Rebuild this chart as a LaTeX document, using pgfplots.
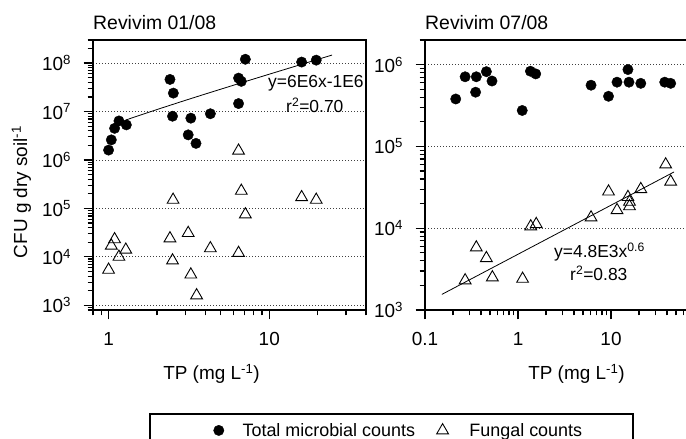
\documentclass[border=0pt]{standalone}
\usepackage{fontspec}
\setmainfont{Liberation Sans}
\usepackage{pgfplots}
\pgfplotsset{compat=1.18}

\begin{document}
\begin{tikzpicture}[x=1bp,y=1bp]
% ---- Revivim 01/08
\begin{axis}[scale only axis, xmode=log, ymode=log,
  at={(93bp,129bp)}, anchor=south west, width=273bp, height=270bp,
  axis line style={line width=1.8bp},
  tick align=outside, xtick pos=bottom, ytick pos=left,
  major tick length=9.5bp, minor tick length=5.5bp,
  tick style={black, line width=1.2bp},
  ymajorgrids,
  major grid style={black!75, line width=0.9bp, dash pattern=on 0.9bp off 2.1bp},
  tick label style={font=\fontsize{19}{22}\selectfont},
  yticklabel style={xshift=-9bp}, xticklabel style={yshift=-9bp},
  xmin=0.8, xmax=40, ymin=800, ymax=3e8,
  xtick={1,10}, xticklabels={1,10},
  minor xtick={0.8,0.9,2,3,4,5,6,7,8,9,20,30,40},
  ytick={1e3,1e4,1e5,1e6,1e7,1e8},
  yticklabels={10\textsuperscript{3},10\textsuperscript{4},10\textsuperscript{5},10\textsuperscript{6},10\textsuperscript{7},10\textsuperscript{8}},
  minor ytick={800,900,2e3,3e3,4e3,5e3,6e3,7e3,8e3,9e3,2e4,3e4,4e4,5e4,6e4,7e4,8e4,9e4,
    2e5,3e5,4e5,5e5,6e5,7e5,8e5,9e5,2e6,3e6,4e6,5e6,6e6,7e6,8e6,9e6,
    2e7,3e7,4e7,5e7,6e7,7e7,8e7,9e7,2e8,3e8},
  legend columns=2, legend cell align=left,
  legend style={draw=none, fill=none, at={(0.441,-0.446)}, anchor=west,
    inner xsep=0bp, inner ysep=0bp, font=\fontsize{18}{20}\selectfont,
    /tikz/column 1/.style={column sep=16.6bp},
    /tikz/column 2/.style={column sep=19.7bp},
    /tikz/column 3/.style={column sep=19bp}},
]
\addplot[only marks, mark=*, mark size=5.2bp, black, mark options={fill=black}] coordinates {
  (1.00,1.6e6) (1.04,2.6e6) (1.09,4.5e6) (1.16,6.4e6) (1.29,5.3e6)
  (2.41,4.6e7) (2.53,2.4e7) (2.50,8.0e6) (3.25,7.3e6) (3.13,3.3e6)
  (3.50,2.2e6) (4.30,9.0e6) (6.44,4.9e7) (6.70,4.2e7) (6.44,1.46e7)
  (7.10,1.2e8) (15.9,1.05e8) (19.6,1.15e8)
};
\addlegendentry{Total microbial counts}
\addplot[only marks, mark=triangle, mark size=6.8bp, black, mark options={line width=0.9bp}] coordinates {
  (6.44,1.55e6) (6.70,2.3e5) (2.52,1.5e5) (15.9,1.7e5) (19.6,1.5e5)
  (7.10,7.5e4) (1.09,2.3e4) (1.04,1.7e4) (1.28,1.4e4) (1.16,1.0e4)
  (1.00,5.4e3) (2.41,2.4e4) (2.50,8.4e3) (3.13,3.1e4) (3.25,4.3e3)
  (3.53,1.6e3) (4.30,1.5e4) (6.44,1.2e4)
};
\addlegendentry{Fungal counts}
% y = 6E6x - 1E6
\addplot[black, line width=0.8bp, no marks, forget plot] coordinates {
  (1.29,6.74e6) (1.5,8.0e6) (2,1.1e7) (3,1.7e7) (4,2.3e7) (6,3.5e7)
  (8,4.7e7) (10,5.9e7) (15,8.9e7) (20,1.19e8) (24.6,1.466e8)
};
\end{axis}

% ---- Revivim 07/08
\begin{axis}[scale only axis, xmode=log, ymode=log,
  at={(425bp,129bp)}, anchor=south west, width=264.6bp, height=270bp,
  axis line style={line width=1.8bp},
  tick align=outside, xtick pos=bottom, ytick pos=left,
  major tick length=9.5bp, minor tick length=5.5bp,
  tick style={black, line width=1.2bp},
  ymajorgrids,
  major grid style={black!75, line width=0.9bp, dash pattern=on 0.9bp off 2.1bp},
  tick label style={font=\fontsize{19}{22}\selectfont},
  yticklabel style={xshift=-9bp}, xticklabel style={yshift=-9bp},
  xmin=0.1, xmax=70, ymin=1000, ymax=2e6,
  xtick={0.1,1,10}, xticklabels={0.1,1,10},
  minor xtick={0.2,0.3,0.4,0.5,0.6,0.7,0.8,0.9,2,3,4,5,6,7,8,9,20,30,40,50,60,70},
  ytick={1e3,1e4,1e5,1e6},
  yticklabels={10\textsuperscript{3},10\textsuperscript{4},10\textsuperscript{5},10\textsuperscript{6}},
  minor ytick={2e3,3e3,4e3,5e3,6e3,7e3,8e3,9e3,2e4,3e4,4e4,5e4,6e4,7e4,8e4,9e4,
    2e5,3e5,4e5,5e5,6e5,7e5,8e5,9e5,2e6},
]
\addplot[only marks, mark=*, mark size=5.2bp, black, mark options={fill=black}] coordinates {
  (0.214,3.8e5) (0.27,7.1e5) (0.356,7.1e5) (0.35,4.6e5) (0.457,8.2e5)
  (0.525,6.3e5) (1.11,2.75e5) (1.36,8.3e5) (1.55,7.7e5) (6.1,5.6e5)
  (9.4,4.1e5) (11.6,6.1e5) (15.2,8.7e5) (15.6,6.1e5) (20.9,5.9e5)
  (37.8,6.1e5) (43.8,5.9e5)
};
\addplot[only marks, mark=triangle, mark size=6.8bp, black, mark options={line width=0.9bp}] coordinates {
  (38.7,6.0e4) (43.8,3.7e4) (9.4,2.8e4) (20.9,3.0e4) (15.2,2.4e4)
  (15.8,2.1e4) (15.8,1.85e4) (11.6,1.66e4) (6.1,1.35e4) (1.37,1.05e4)
  (1.57,1.12e4) (0.356,5.8e3) (0.457,4.3e3) (0.53,2.5e3) (0.27,2.3e3)
  (1.12,2.4e3) (0.36,850)
};
% y = 4.8E3 x^0.6
\addplot[black, line width=0.8bp, no marks] coordinates {(0.152,1552) (47.6,4.87e4)};
\end{axis}

% titles, axis labels, annotations
\node[inner sep=0pt, anchor=base west, font=\fontsize{19.5}{22}\selectfont] at (93,409.5) {Revivim 01/08};
\node[inner sep=0pt, anchor=base west, font=\fontsize{19.5}{22}\selectfont] at (425,409.5) {Revivim 07/08};
\node[inner sep=0pt, anchor=base, font=\fontsize{19}{22}\selectfont] at (211.5,59) {TP (mg L\textsuperscript{-1})};
\node[inner sep=0pt, anchor=base, font=\fontsize{19}{22}\selectfont] at (576.5,59) {TP (mg L\textsuperscript{-1})};
\node[inner sep=0pt, rotate=90, anchor=base, font=\fontsize{19}{22}\selectfont] at (27,247) {CFU g dry soil\textsuperscript{-1}};
\node[inner sep=0pt, anchor=base west, font=\fontsize{17.5}{20}\selectfont] at (268,351) {y=6E6x-1E6};
\node[inner sep=0pt, anchor=base west, font=\fontsize{17.5}{20}\selectfont] at (286,326) {r\textsuperscript{2}=0.70};
\node[inner sep=0pt, anchor=base west, font=\fontsize{17.5}{20}\selectfont] at (554,181) {y=4.8E3x\textsuperscript{0.6}};
\node[inner sep=0pt, anchor=base west, font=\fontsize{17.5}{20}\selectfont] at (570,158) {r\textsuperscript{2}=0.83};

% legend frame
\draw[line width=1.1bp] (150,-20) rectangle (633,25);

\pgfresetboundingbox
\useasboundingbox (0,0) rectangle (686,439);
\end{tikzpicture}
\end{document}
